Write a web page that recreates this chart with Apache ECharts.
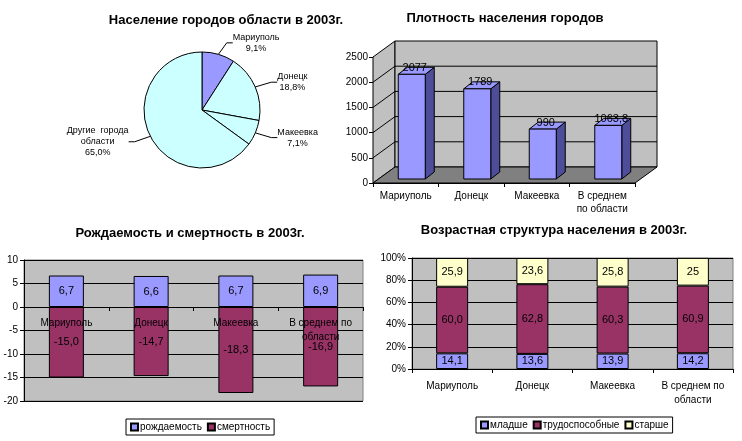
<!DOCTYPE html>
<html>
<head>
<meta charset="utf-8">
<script src="https://cdn.jsdelivr.net/npm/echarts@6/dist/echarts.min.js"></script>
<style>
html, body { margin: 0; padding: 0; background: #fff; }
#main { width: 742px; height: 441px; }
</style>
</head>
<body>
<div id="main"></div>
<script>
// data
var cities = ['Мариуполь', 'Донецк', 'Макеевка', 'В среднем по области'];
var popNames = ['Мариуполь', 'Донецк', 'Макеевка', 'Другие  города\nобласти'];
var popShare = [9.1, 18.8, 7.1, 65.0];
var density = [2077, 1789, 990, 1063.8];
var birth = [6.7, 6.6, 6.7, 6.9];
var death = [-15.0, -14.7, -18.3, -16.9];
var younger = [14.1, 13.6, 13.9, 14.2];
var working = [60.0, 62.8, 60.3, 60.9];
var older = [25.9, 23.6, 25.8, 25];

var FONT = "'Liberation Sans', Arial, sans-serif";
var densityMax = 2500, densityStep = 500;
var rateMin = -20, rateMax = 10, rateStep = 5;
// 3d offsets: wall depth, bar position and bar depth
var DX = 22, DY = 16, BX = 6, BY = 4, BDX = 9, BDY = 7, BW = 27;
var RATE_GRID_H = 141;

function comma(v, fixed) {
  return (fixed ? v.toFixed(1) : String(v)).replace('.', ',');
}

function renderWalls(params, api) {
  var cs = params.coordSys;
  var x0 = cs.x, x1 = cs.x + cs.width, yT = cs.y, yB = cs.y + cs.height;
  var kids = [
    {type: 'polygon', shape: {points: [[x0, yB], [x0, yT], [x0 + DX, yT - DY], [x0 + DX, yB - DY]]},
      style: {fill: '#c0c0c0', stroke: '#000', lineWidth: 1}},
    {type: 'rect', shape: {x: x0 + DX, y: yT - DY, width: cs.width, height: cs.height},
      style: {fill: '#c0c0c0', stroke: '#000', lineWidth: 1}},
    {type: 'polygon', shape: {points: [[x0, yB], [x0 + DX, yB - DY], [x1 + DX, yB - DY], [x1, yB]]},
      style: {fill: '#808080', stroke: '#000', lineWidth: 1}}
  ];
  for (var v = densityStep; v < densityMax; v += densityStep) {
    var y = api.coord([0, v])[1];
    kids.push({type: 'polyline', shape: {points: [[x0, y], [x0 + DX, y - DY], [x1 + DX, y - DY]]},
      style: {stroke: '#000', fill: null, lineWidth: 1}});
  }
  return {type: 'group', children: kids};
}

function renderBar(params, api) {
  var i = api.value(0), v = api.value(1);
  var base = api.coord([i, 0]), top = api.coord([i, v]);
  var cx = base[0] + BX, yb = base[1] - BY, yt = top[1] - BY;
  var l = cx - BW / 2, r = cx + BW / 2;
  return {
    type: 'group',
    children: [
      {type: 'polygon', shape: {points: [[r, yt], [r + BDX, yt - BDY], [r + BDX, yb - BDY], [r, yb]]},
        style: {fill: '#4d4d99', stroke: '#000', lineWidth: 1}},
      {type: 'polygon', shape: {points: [[l, yt], [l + BDX, yt - BDY], [r + BDX, yt - BDY], [r, yt]]},
        style: {fill: '#9999ff', stroke: '#000', lineWidth: 1}},
      {type: 'rect', shape: {x: l, y: yt, width: BW, height: yb - yt},
        style: {fill: '#9999ff', stroke: '#000', lineWidth: 1}},
      {type: 'text', style: {text: comma(v), x: cx + 3, y: yt - 1, align: 'center', verticalAlign: 'bottom',
        font: '11px ' + FONT, fill: '#000'}}
    ]
  };
}

var chart = echarts.init(document.getElementById('main'));
var axisBlack = {lineStyle: {color: '#000', width: 1}};
var labelBlack = {color: '#000', fontSize: 10, fontFamily: FONT, interval: 0};
var titleStyle = {fontSize: 13, fontWeight: 'bold', color: '#000'};
var legendBase = {orient: 'horizontal', itemWidth: 7, itemHeight: 7, itemGap: 5, icon: 'rect',
  padding: [3, 4], borderColor: '#000', borderWidth: 1,
  textStyle: {fontSize: 10, color: '#000', padding: [0, 0, 0, -3]}};

var option = {
  animation: false,
  textStyle: {fontFamily: FONT},
  title: [
    {text: 'Население городов области в 2003г.', left: 221, top: 9, textAlign: 'center', textStyle: titleStyle},
    {text: 'Плотность населения городов', left: 500, top: 7, textAlign: 'center', textStyle: titleStyle},
    {text: 'Рождаемость и смертность в 2003г.', left: 185, top: 222, textAlign: 'center', textStyle: titleStyle},
    {text: 'Возрастная структура населения в 2003г.', left: 549, top: 219, textAlign: 'center', textStyle: titleStyle}
  ],
  legend: [
    Object.assign({data: ['рождаемость', 'смертность'], left: 126, top: 419}, legendBase),
    Object.assign({data: ['младше', 'трудоспособные', 'старше'], left: 476, top: 417}, legendBase)
  ],
  grid: [
    {left: 373, top: 57, width: 262, height: 126},
    {left: 24, top: 260, width: 339, height: RATE_GRID_H, show: true, backgroundColor: '#c0c0c0',
      borderColor: '#808080', borderWidth: 1},
    {left: 412, top: 258, width: 321, height: 111, show: true, backgroundColor: '#c0c0c0',
      borderColor: '#808080', borderWidth: 1}
  ],
  xAxis: [
    {type: 'category', gridIndex: 0, data: cities, axisLine: axisBlack,
      axisTick: {show: true, length: 4, lineStyle: {color: '#000'}},
      axisLabel: Object.assign({margin: 7, lineHeight: 13,
        formatter: function (s) { return s.replace('В среднем по ', 'В среднем\nпо '); }}, labelBlack)},
    // category axis sits on the zero line
    {type: 'category', gridIndex: 1, data: cities, z: 10,
      offset: -RATE_GRID_H * (0 - rateMin) / (rateMax - rateMin),
      axisLine: {onZero: false, lineStyle: {color: '#000'}},
      axisTick: {show: true, length: 4, lineStyle: {color: '#000'}},
      axisLabel: Object.assign({margin: 9, lineHeight: 14,
        formatter: function (s) { return s.replace('по области', 'по\nобласти'); }}, labelBlack)},
    {type: 'category', gridIndex: 2, data: cities, axisLine: axisBlack,
      axisTick: {show: true, length: 4, lineStyle: {color: '#000'}},
      axisLabel: Object.assign({margin: 10, lineHeight: 14,
        formatter: function (s) { return s.replace('по области', 'по\nобласти'); }}, labelBlack)}
  ],
  yAxis: [
    {type: 'value', gridIndex: 0, min: 0, max: densityMax, interval: densityStep,
      axisLine: {show: true, lineStyle: {color: '#000'}},
      axisTick: {show: true, length: 4, lineStyle: {color: '#000'}},
      splitLine: {show: false},
      axisLabel: Object.assign({margin: 5, formatter: function (v) { return String(v); }}, labelBlack)},
    {type: 'value', gridIndex: 1, min: rateMin, max: rateMax, interval: rateStep,
      axisLine: {show: true, lineStyle: {color: '#000'}},
      axisTick: {show: true, length: 4, lineStyle: {color: '#000'}},
      splitLine: {show: true, lineStyle: {color: '#000', width: 1}},
      axisLabel: Object.assign({margin: 6}, labelBlack)},
    {type: 'value', gridIndex: 2, min: 0, max: 100, interval: 20,
      axisLine: {show: true, lineStyle: {color: '#000'}},
      axisTick: {show: true, length: 4, lineStyle: {color: '#000'}},
      splitLine: {show: true, lineStyle: {color: '#000', width: 1}},
      axisLabel: Object.assign({margin: 6, formatter: '{value}%'}, labelBlack)}
  ],
  series: [
    {
      type: 'pie', center: [202, 110], radius: 58, startAngle: 90, clockwise: true,
      data: popNames.map(function (n, i) {
        return {name: n, value: popShare[i], itemStyle: {color: i === 0 ? '#9999ff' : '#ccffff'}};
      }),
      itemStyle: {borderColor: '#000', borderWidth: 1},
      label: {show: true, position: 'outside', color: '#000', fontSize: 9, lineHeight: 11,
        formatter: function (p) { return p.name + '\n' + comma(p.value, true) + '%'; }},
      labelLine: {show: true, length: 12, length2: 6, lineStyle: {color: '#000', width: 1}},
      labelLayout: function (p) {
        return {x: p.labelRect.x + p.labelRect.width / 2, align: 'center'};
      }
    },
    {
      type: 'custom', xAxisIndex: 0, yAxisIndex: 0, renderItem: renderWalls, silent: true,
      data: [[0, 0]], z: 1, clip: false
    },
    {
      type: 'custom', xAxisIndex: 0, yAxisIndex: 0, renderItem: renderBar, silent: true,
      data: density.map(function (v, i) { return [i, v]; }), z: 3, clip: false
    },
    {
      name: 'рождаемость', type: 'bar', xAxisIndex: 1, yAxisIndex: 1, data: birth,
      barWidth: 35, barGap: '-100%',
      itemStyle: {color: '#9999ff', borderColor: '#000', borderWidth: 1},
      label: {show: true, position: 'inside', color: '#000', fontSize: 11,
        formatter: function (p) { return comma(p.value, true); }}
    },
    {
      name: 'смертность', type: 'bar', xAxisIndex: 1, yAxisIndex: 1, data: death,
      barWidth: 35, barGap: '-100%',
      itemStyle: {color: '#993366', borderColor: '#000', borderWidth: 1},
      label: {show: true, position: 'inside', color: '#000', fontSize: 11,
        formatter: function (p) { return comma(p.value, true); }}
    },
    {
      name: 'младше', type: 'bar', xAxisIndex: 2, yAxisIndex: 2, stack: 'age', data: younger,
      barWidth: 32, itemStyle: {color: '#9999ff', borderColor: '#000', borderWidth: 1},
      label: {show: true, position: 'inside', color: '#000', fontSize: 11,
        formatter: function (p) { return comma(p.value, true); }}
    },
    {
      name: 'трудоспособные', type: 'bar', xAxisIndex: 2, yAxisIndex: 2, stack: 'age', data: working,
      barWidth: 32, itemStyle: {color: '#993366', borderColor: '#000', borderWidth: 1},
      label: {show: true, position: 'inside', color: '#000', fontSize: 11,
        formatter: function (p) { return comma(p.value, true); }}
    },
    {
      name: 'старше', type: 'bar', xAxisIndex: 2, yAxisIndex: 2, stack: 'age', data: older,
      barWidth: 32, itemStyle: {color: '#ffffcc', borderColor: '#000', borderWidth: 1},
      label: {show: true, position: 'inside', color: '#000', fontSize: 11,
        formatter: function (p) { return comma(p.value, false); }}
    }
  ]
};

chart.setOption(option);
</script>
</body>
</html>
